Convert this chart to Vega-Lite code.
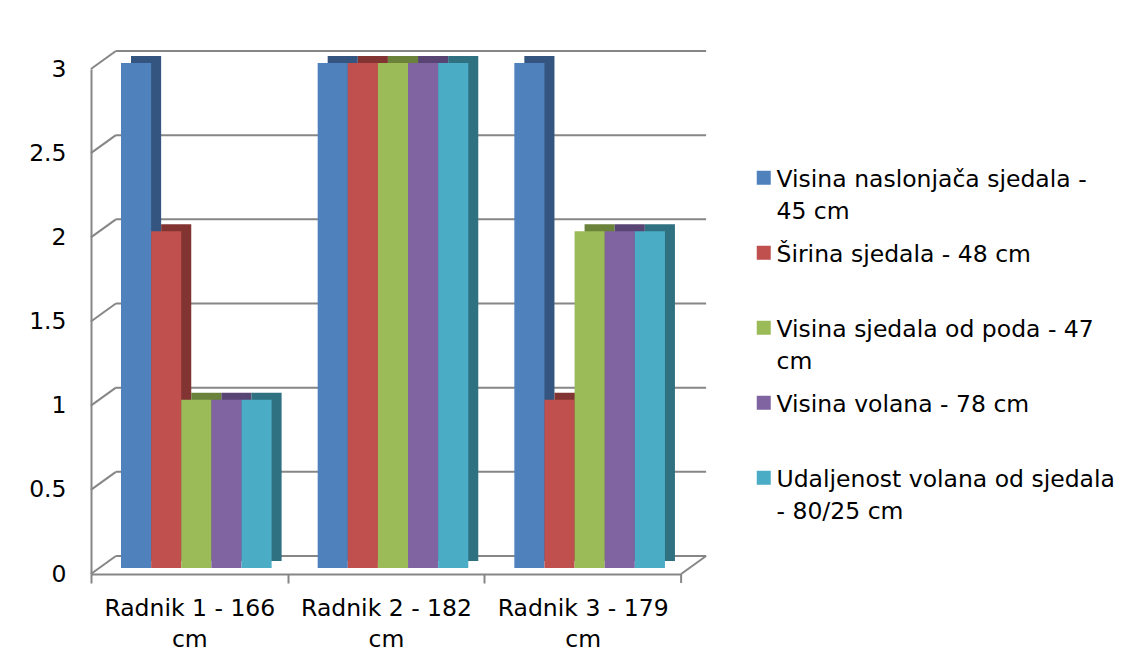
{
  "$schema": "https://vega.github.io/schema/vega-lite/v6.json",
  "width": 590,
  "height": 505,
  "autosize": "none",
  "padding": {"left": 91, "top": 69, "right": 451, "bottom": 92},
  "background": "white",
  "config": {
    "view": {"stroke": null},
    "font": "DejaVu Sans",
    "axis": {"labelFont": "DejaVu Sans", "labelFontSize": 23.5, "labelColor": "#000000", "domainColor": "#868686", "domainWidth": 2, "tickColor": "#868686", "tickWidth": 2}
  },
  "datasets": {
    "bars": [
      {"radnik": "Radnik 1 - 166\ncm", "serija": "Visina naslonjača sjedala -\n45 cm", "ocjena": 3},
      {"radnik": "Radnik 1 - 166\ncm", "serija": "Širina sjedala - 48 cm", "ocjena": 2},
      {"radnik": "Radnik 1 - 166\ncm", "serija": "Visina sjedala od poda - 47\ncm", "ocjena": 1},
      {"radnik": "Radnik 1 - 166\ncm", "serija": "Visina volana - 78 cm", "ocjena": 1},
      {"radnik": "Radnik 1 - 166\ncm", "serija": "Udaljenost volana od sjedala\n- 80/25 cm", "ocjena": 1},
      {"radnik": "Radnik 2 - 182\ncm", "serija": "Visina naslonjača sjedala -\n45 cm", "ocjena": 3},
      {"radnik": "Radnik 2 - 182\ncm", "serija": "Širina sjedala - 48 cm", "ocjena": 3},
      {"radnik": "Radnik 2 - 182\ncm", "serija": "Visina sjedala od poda - 47\ncm", "ocjena": 3},
      {"radnik": "Radnik 2 - 182\ncm", "serija": "Visina volana - 78 cm", "ocjena": 3},
      {"radnik": "Radnik 2 - 182\ncm", "serija": "Udaljenost volana od sjedala\n- 80/25 cm", "ocjena": 3},
      {"radnik": "Radnik 3 - 179\ncm", "serija": "Visina naslonjača sjedala -\n45 cm", "ocjena": 3},
      {"radnik": "Radnik 3 - 179\ncm", "serija": "Širina sjedala - 48 cm", "ocjena": 1},
      {"radnik": "Radnik 3 - 179\ncm", "serija": "Visina sjedala od poda - 47\ncm", "ocjena": 2},
      {"radnik": "Radnik 3 - 179\ncm", "serija": "Visina volana - 78 cm", "ocjena": 2},
      {"radnik": "Radnik 3 - 179\ncm", "serija": "Udaljenost volana od sjedala\n- 80/25 cm", "ocjena": 2}
    ],
    "ticks": [{"v": 0}, {"v": 0.5}, {"v": 1}, {"v": 1.5}, {"v": 2}, {"v": 2.5}, {"v": 3}]
  },
  "resolve": {"scale": {"color": "independent", "xOffset": "independent"}},
  "layer": [
    {
      "data": {"name": "ticks"},
      "mark": {"type": "rule", "color": "#868686", "strokeWidth": 2, "xOffset": 25, "x2Offset": 25, "yOffset": -18, "y2Offset": -18},
      "encoding": {
        "x": {"datum": "Radnik 1 - 166\ncm", "type": "nominal", "bandPosition": -0.1535, "axis": {"title": null}},
        "x2": {"datum": "Radnik 3 - 179\ncm", "bandPosition": 1.1535},
        "y": {"field": "v", "type": "quantitative", "title": null},
        "y2": {"field": "v"}
      }
    },
    {
      "data": {"name": "ticks"},
      "mark": {"type": "rule", "color": "#868686", "strokeWidth": 2, "x2Offset": 25, "y2Offset": -18},
      "encoding": {
        "x": {"datum": "Radnik 1 - 166\ncm", "type": "nominal", "bandPosition": -0.1535, "axis": {"title": null}},
        "x2": {"datum": "Radnik 1 - 166\ncm", "bandPosition": -0.1535},
        "y": {"field": "v", "type": "quantitative", "title": null},
        "y2": {"field": "v"}
      }
    },
    {
      "data": {"name": "ticks"},
      "transform": [{"filter": "datum.v == 0"}],
      "mark": {"type": "rule", "color": "#868686", "strokeWidth": 2, "x2Offset": 25, "y2Offset": -18},
      "encoding": {
        "x": {"datum": "Radnik 3 - 179\ncm", "type": "nominal", "bandPosition": 1.1535, "axis": {"title": null}},
        "x2": {"datum": "Radnik 3 - 179\ncm", "bandPosition": 1.1535},
        "y": {"field": "v", "type": "quantitative", "title": null},
        "y2": {"field": "v"}
      }
    },
    {
      "data": {"name": "ticks"},
      "transform": [{"filter": "datum.v == 0"}],
      "mark": {"type": "rule", "color": "#868686", "strokeWidth": 2, "y2Offset": 9},
      "encoding": {
        "x": {"datum": "Radnik 3 - 179\ncm", "type": "nominal", "bandPosition": 1.1535, "axis": {"title": null}},
        "y": {"field": "v", "type": "quantitative", "title": null},
        "y2": {"field": "v"}
      }
    },
    {
      "data": {"name": "bars"},
      "mark": {"type": "bar", "yOffset": -13, "y2Offset": -13},
      "encoding": {
        "x": {"field": "radnik", "type": "nominal", "title": null},
        "xOffset": {"field": "serija", "type": "nominal", "sort": null, "scale": {"range": [17, 167.6]}},
        "y": {"field": "ocjena", "type": "quantitative", "title": null},
        "color": {
          "field": "serija", "type": "nominal", "legend": null,
          "scale": {"domain": ["Visina naslonjača sjedala -\n45 cm", "Širina sjedala - 48 cm", "Visina sjedala od poda - 47\ncm", "Visina volana - 78 cm", "Udaljenost volana od sjedala\n- 80/25 cm"],
                    "range": ["#34557F", "#823432", "#6A823A", "#584574", "#2F7081"]}
        }
      }
    },
    {
      "data": {"name": "bars"},
      "mark": {"type": "bar", "yOffset": -6, "y2Offset": -6},
      "encoding": {
        "x": {
          "field": "radnik", "type": "nominal", "sort": null, "title": null,
          "scale": {"paddingInner": 0.234, "paddingOuter": 0.117},
          "axis": {"labelAngle": 0, "labelExpr": "split(datum.label, '\\n')", "labelLineHeight": 31, "tickOffset": -98.33, "labelOffset": 98.33, "tickSize": 9, "labelPadding": 13, "labelOverlap": false, "labelLimit": 0, "labelBaseline": "top", "labelAlign": "center"}
        },
        "xOffset": {"field": "serija", "type": "nominal", "sort": null, "scale": {"range": [7, 157.6]}},
        "y": {
          "field": "ocjena", "type": "quantitative", "title": null,
          "scale": {"domain": [0, 3], "nice": false},
          "axis": {"values": [0, 0.5, 1, 1.5, 2, 2.5, 3], "format": "~g", "ticks": false, "grid": false, "labelPadding": 25}
        },
        "color": {
          "field": "serija", "type": "nominal",
          "scale": {"domain": ["Visina naslonjača sjedala -\n45 cm", "Širina sjedala - 48 cm", "Visina sjedala od poda - 47\ncm", "Visina volana - 78 cm", "Udaljenost volana od sjedala\n- 80/25 cm"],
                    "range": ["#4F81BD", "#C0504D", "#9BBB59", "#8064A2", "#4BACC6"]},
          "legend": {
            "title": null, "orient": "none", "legendX": 661, "legendY": 87, "padding": 0,
            "symbolType": "M-1,0.43H1V2.43H-1Z", "symbolSize": 196, "symbolStrokeWidth": 0, "symbolOpacity": 1,
            "labelFont": "DejaVu Sans", "labelFontSize": 23.5, "labelColor": "#000000", "labelBaseline": "top",
            "labelExpr": "split(datum.label, '\\n')", "labelOffset": 1, "labelLimit": 0,
            "gridAlign": "all", "rowPadding": 7,
            "encode": {"labels": {"update": {"lineHeight": {"value": 32}}}}
          }
        }
      }
    }
  ]
}
